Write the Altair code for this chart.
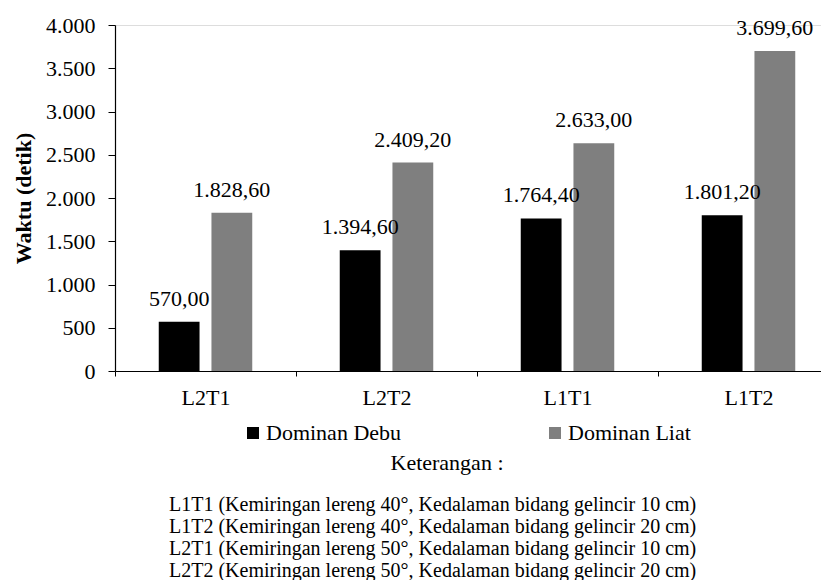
import altair as alt
import pandas as pd

categories = ["L2T1", "L2T2", "L1T1", "L1T2"]
series = ["Dominan Debu", "Dominan Liat"]
dominan_debu = [570.00, 1394.60, 1764.40, 1801.20]
dominan_liat = [1828.60, 2409.20, 2633.00, 3699.60]
y_ticks = [0, 500, 1000, 1500, 2000, 2500, 3000, 3500, 4000]
colors = ["#000000", "#7f7f7f"]
y_title = "Waktu (detik)"
keterangan = "Keterangan :"
notes = [
    "L1T1 (Kemiringan lereng 40°, Kedalaman bidang gelincir 10 cm)",
    "L1T2 (Kemiringan lereng 40°, Kedalaman bidang gelincir 20 cm)",
    "L2T1 (Kemiringan lereng 50°, Kedalaman bidang gelincir 10 cm)",
    "L2T2 (Kemiringan lereng 50°, Kedalaman bidang gelincir 20 cm)",
]

rows = []
for c, d, l in zip(categories, dominan_debu, dominan_liat):
    rows.append({"kategori": c, "seri": series[0], "waktu": d})
    rows.append({"kategori": c, "seri": series[1], "waktu": l})
df = pd.DataFrame(rows)

FONT = "Liberation Serif"

x_enc = alt.X(
    "kategori:N",
    sort=categories,
    scale=alt.Scale(range=[0, 724], paddingInner=0, paddingOuter=0),
    axis=alt.Axis(
        title=None,
        labelAngle=0,
        labelFont=FONT,
        labelFontSize=22,
        labelColor="#000000",
        labelPadding=11,
        tickBand="extent",
        tickSize=5,
        tickColor="#000000",
        domainColor="#000000",
        domainWidth=1.2,
    ),
)
xoff_enc = alt.XOffset(
    "seri:N", sort=series, scale=alt.Scale(paddingInner=0.226, paddingOuter=0.83)
)
y_enc = alt.Y(
    "waktu:Q",
    scale=alt.Scale(domain=[0, 4000], nice=False),
    axis=alt.Axis(
        title=y_title,
        titleFont=FONT,
        titleFontSize=22,
        titleFontWeight="bold",
        titleColor="#000000",
        titlePadding=10,
        values=y_ticks,
        labelExpr="replace(format(datum.value, ','), ',', '.')",
        labelFont=FONT,
        labelFontSize=22,
        labelColor="#000000",
        labelPadding=13,
        tickSize=7,
        tickColor="#000000",
        domainColor="#000000",
        domainWidth=1.2,
        grid=False,
    ),
)

base = alt.Chart(df).encode(x=x_enc, xOffset=xoff_enc, y=y_enc)

bars = base.mark_bar().encode(
    color=alt.Color(
        "seri:N",
        sort=series,
        scale=alt.Scale(domain=series, range=colors),
        legend=alt.Legend(
            title=None,
            orient="none",
            direction="horizontal",
            legendX=127,
            legendY=397,
            symbolType="square",
            symbolSize=144,
            symbolStrokeWidth=0,
            labelFont=FONT,
            labelFontSize=22,
            labelColor="#000000",
            labelOffset=2,
            columnPadding=142,
            padding=0,
        ),
    )
)

labels = base.transform_calculate(
    lab="replace(replace(replace(format(datum.waktu, ',.2f'), ',', '#'), '.', ','), '#', '.')"
).mark_text(
    dy=-16, baseline="alphabetic", font=FONT, fontSize=22, color="#000000"
).encode(text="lab:N")

ket = alt.Chart(pd.DataFrame({"t": [keterangan]})).mark_text(
    font=FONT, fontSize=22, baseline="alphabetic", align="center", color="#000000"
).encode(x=alt.value(332), y=alt.value(445), text="t:N")

note_text = alt.Chart(pd.DataFrame({"a": [0]})).mark_text(
    font=FONT, fontSize=20, baseline="alphabetic", align="left", lineHeight=22,
    color="#000000"
).encode(x=alt.value(54), y=alt.value(486), text=alt.value(notes))

chart = (
    alt.layer(bars, labels, ket, note_text)
    .properties(
        width=706,
        height=346,
        autosize=alt.AutoSizeParams(type="none"),
        padding={"left": 107, "top": 17, "right": 0, "bottom": 209},
        background="#ffffff",
    )
    .configure_view(stroke=None)
    .configure(font=FONT)
)

chart.save("out.html", embed_options={"renderer": "svg", "actions": False})
